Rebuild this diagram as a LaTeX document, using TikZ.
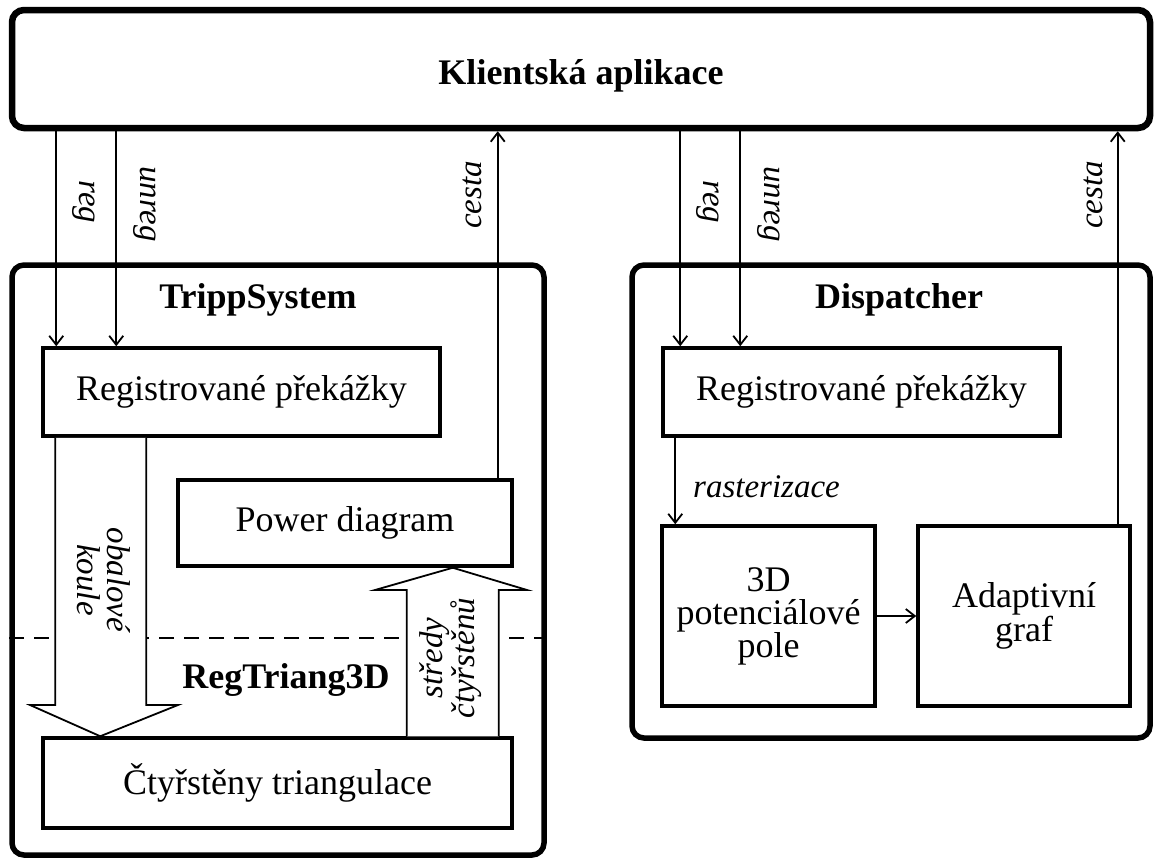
\documentclass[tikz,border=0pt]{standalone}
\usepackage{fontspec}
\setmainfont{Liberation Serif}
\usetikzlibrary{arrows.meta,calc}
\begin{document}
\begin{tikzpicture}[x=1pt,y=-1pt,
  box/.style={draw,line width=3.5pt,inner sep=0pt,align=center,font=\fontsize{36}{33}\selectfont},
  cont/.style={draw,line width=5.5pt,rounded corners=12pt,inner sep=0pt},
  arr/.style={line width=1.8pt,-{Straight Barb[length=9pt,width=14pt,line width=1.8pt]}},
  lab/.style={font=\itshape\fontsize{33}{30}\selectfont,inner sep=0pt,align=center},
  ttl/.style={font=\bfseries\fontsize{36}{38}\selectfont,inner sep=0pt},
  big/.style={line width=1.8pt,fill=white,line join=miter}]
\useasboundingbox (0,0) rectangle (1162,860);
% containers
\node[cont,line width=6.5pt,minimum width=1138pt,minimum height=118pt] (client) at (581,69) {};
\node[ttl] (clientt) at (581,76) {Klientská aplikace};
\node[cont,minimum width=532pt,minimum height=590pt] (tripp) at (278,560) {};
\node[cont,minimum width=518pt,minimum height=473pt] (disp) at (891,501.5) {};
\node[ttl] (trippt) at (258,300) {TrippSystem};
\node[ttl] (dispt) at (899,300) {Dispatcher};
\node[ttl] (regt) at (286,680) {RegTriang3D};
% dashed separator
\draw[line width=1.5pt,dash pattern=on 15pt off 10pt] (tripp.west |- 0,638) -- (tripp.east |- 0,638);
% inner boxes
\node[box,minimum width=397pt,minimum height=88pt] (regL) at (241.5,392) {Registrované překážky};
\node[box,minimum width=334pt,minimum height=86pt] (power) at (345,523) {Power diagram};
\node[box,minimum width=469pt,minimum height=90pt] (tri) at (277.5,783) {Čtyřstěny triangulace};
\node[box,minimum width=397pt,minimum height=88pt] (regR) at (861.5,392) {Registrované překážky};
\node[box,minimum width=213pt,minimum height=180pt] (pot) at (768.5,616) {3D\\potenciálové\\pole};
\node[box,minimum width=212pt,minimum height=180pt] (adap) at (1024,616) {Adaptivní\\graf};
% thin arrows left
\coordinate (lreg) at ([xshift=15pt]regL.north west);
\coordinate (lunreg) at ([xshift=75pt]regL.north west);
\coordinate (lcesta) at ([xshift=-16pt]power.north east);
\draw[arr] (lreg |- client.south) -- (lreg);
\draw[arr] (lunreg |- client.south) -- (lunreg);
\draw[arr] (lcesta) -- (lcesta |- client.south);
\node[lab,rotate=-90] (tlreg) at (84,202) {reg};
\node[lab,rotate=-90] (tlunreg) at (145,204) {unreg};
\node[lab,rotate=90] (tlcesta) at (472,195) {cesta};
% thin arrows right
\coordinate (rreg) at ([xshift=19pt]regR.north west);
\coordinate (runreg) at ([xshift=79pt]regR.north west);
\coordinate (rcesta) at ([xshift=-14pt]adap.north east);
\draw[arr] (rreg |- client.south) -- (rreg);
\draw[arr] (runreg |- client.south) -- (runreg);
\draw[arr] (rcesta) -- (rcesta |- client.south);
\node[lab,rotate=-90] (trreg) at (708,202) {reg};
\node[lab,rotate=-90] (trunreg) at (769,204) {unreg};
\node[lab,rotate=90] (trcesta) at (1093,195) {cesta};
% rasterizace
\coordinate (rs) at ([xshift=14pt]regR.south west);
\draw[arr] (rs) -- (rs |- pot.north);
\node[lab,anchor=base west] (trast) at (693,497) {rasterizace};
% pot -> adap
\draw[arr] (pot.east) -- (adap.west);
% big arrow down
\coordinate (d1) at ([xshift=14pt]regL.south west);
\coordinate (d2) at ([xshift=105pt]regL.south west);
\coordinate (dtip) at ([xshift=59pt]tri.north west);
\draw[big] (d1) -- (d1 |- 0,705) -- (30,705) -- (dtip) -- (178,705) -- (d2 |- 0,705) -- (d2);
\node[lab,rotate=-90] (tobal) at (104,580) {obalové\\koule};
% big arrow up
\coordinate (u1) at ([xshift=-107pt]tri.north east);
\coordinate (u2) at ([xshift=-15pt]tri.north east);
\coordinate (utip) at ([xshift=-61pt]power.south east);
\draw[big] (u1) -- (u1 |- 0,590) -- (375,590) -- (utip) -- (527,590) -- (u2 |- 0,590) -- (u2);
\node[lab,rotate=90] (tstred) at (451,658) {středy\\čtyřstěnů};
\end{tikzpicture}
\end{document}
